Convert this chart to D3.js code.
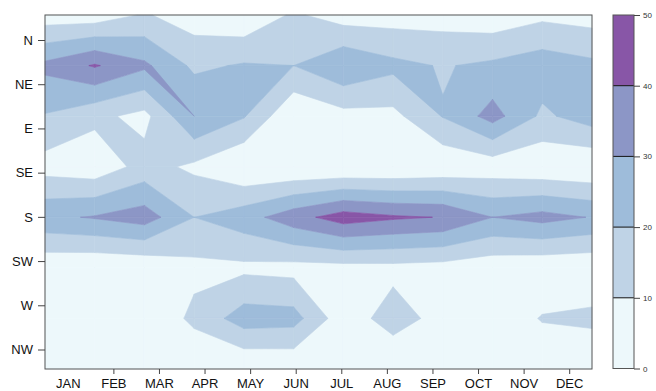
<!DOCTYPE html>
<html>
<head>
<meta charset="utf-8">
<script src="https://cdn.jsdelivr.net/npm/d3@7"></script>
<style>
  body { margin: 0; background: #fff; }
  text { font-family: "Liberation Sans", Arial, sans-serif; }
</style>
</head>
<body>
<div id="chart"></div>
<script>
const months = ["JAN", "FEB", "MAR", "APR", "MAY", "JUN", "JUL", "AUG", "SEP", "OCT", "NOV", "DEC"];
const directions = ["N", "NE", "E", "SE", "S", "SW", "W", "NW"];
const levels = [0, 10, 20, 30, 40, 50];
const bandColors = ["#edf8fb", "#bfd3e6", "#9ebcda", "#8c96c6", "#8856a7"];

// frequency by month, one array per wind direction
const windN  = [4.3, 4, 11, 4.7, 1.5, 11.5, 5.1, 5.3, 5.4, 3.2, 7.6, 5.7];
const windNE = [32.5, 41, 32, 17.9, 21, 20, 29, 22.7, 19.3, 22, 25.8, 22.4];
const windE  = [19.3, 12.5, 7, 30, 20.8, 0.8, 6.5, 7.1, 20.5, 34, 18, 25];
const windSE = [5.8, 3.2, 13.7, 8, 0, 0, 0, 0.3, 2, 3.9, 2, 0.8];
const windS  = [28, 30.8, 35, 20, 25.7, 36, 45, 41.5, 39.6, 30, 33.5, 29.5];
const windSW = [2, 1, 1.6, 7.3, 7.7, 6.5, 6.6, 7, 6, 3.3, 2, 1.5];
const windW  = [2, 1, 0.5, 12.5, 25, 24, 3.7, 15, 6, 3, 10.7, 12.5];
const windNW = [1, 1, 1, 0, 0, 0.7, 1, 0, 1, 1, 2, 0];

const grid = [windN, windNE, windE, windSE, windS, windSW, windW, windNW];

const width = 656, height = 391;
const plot = { left: 45, top: 15, right: 592, bottom: 369 };

const svg = d3.select("#chart")
  .append("svg")
  .attr("width", width)
  .attr("height", height);

// grid columns/rows span the whole plot box
const x = d3.scaleLinear().domain([0, months.length - 1]).range([plot.left, plot.right]);
const y = d3.scaleLinear().domain([0, directions.length - 1]).range([plot.top, plot.bottom]);

// polygon of one cell that lies inside [lo, hi] (walks the 4 edges like filled.contour)
function cellBand(corners, lo, hi) {
  const pts = [];
  for (let k = 0; k < 4; k++) {
    const [c1, r1, z1] = corners[k];
    const [c2, r2, z2] = corners[(k + 1) % 4];
    if (z1 >= lo && z1 <= hi) pts.push([c1, r1]);
    if (z1 !== z2) {
      [lo, hi].map(v => (v - z1) / (z2 - z1))
        .filter(t => t > 0 && t < 1)
        .sort((a, b) => a - b)
        .forEach(t => pts.push([c1 + t * (c2 - c1), r1 + t * (r2 - r1)]));
    }
  }
  return pts.length >= 3 ? pts : null;
}

const line = d3.line()
  .x(p => x(p[0]))
  .y(p => y(p[1]))
  .curve(d3.curveLinearClosed);

const gFill = svg.append("g");

bandColors.forEach((col, b) => {
  const lo = levels[b], hi = levels[b + 1];
  for (let r = 0; r < directions.length - 1; r++) {
    for (let c = 0; c < months.length - 1; c++) {
      const corners = [
        [c, r, grid[r][c]],
        [c + 1, r, grid[r][c + 1]],
        [c + 1, r + 1, grid[r + 1][c + 1]],
        [c, r + 1, grid[r + 1][c]]
      ];
      const pts = cellBand(corners, lo, hi);
      if (!pts) continue;
      gFill.append("path")
        .attr("d", line(pts))
        .attr("fill", col)
        .attr("stroke", col)
        .attr("stroke-width", 0.6)
        .attr("stroke-linejoin", "round");
    }
  }
});

// plot border
svg.append("rect")
  .attr("x", plot.left)
  .attr("y", plot.top)
  .attr("width", plot.right - plot.left)
  .attr("height", plot.bottom - plot.top)
  .attr("fill", "none")
  .attr("stroke", "#555")
  .attr("stroke-width", 1);

// axes
const xLab = d3.scalePoint().domain(months).range([67.8, 569.2]);
const yLab = d3.scalePoint().domain(directions).range([40, 349.5]);

const xAxis = svg.append("g")
  .attr("transform", `translate(0,${plot.bottom})`)
  .call(d3.axisBottom(xLab).tickSize(5).tickPadding(5));
xAxis.select(".domain").remove();
xAxis.selectAll(".tick").filter(d => d === "JAN").select("line").remove();

const yAxis = svg.append("g")
  .attr("transform", `translate(${plot.left},0)`)
  .call(d3.axisLeft(yLab).tickSize(7).tickPadding(5));
yAxis.select(".domain").remove();

[xAxis, yAxis].forEach(g => {
  g.selectAll(".tick line").attr("stroke", "#444");
  g.selectAll(".tick text")
    .attr("fill", "#111")
    .style("font-size", "13px")
    .style("font-family", "'Liberation Sans', Arial, sans-serif");
});

// colour key
const key = { x: 613, w: 21 };
const yKey = d3.scaleLinear().domain([0, 50]).range([368.5, 15]);

svg.append("g")
  .selectAll("rect")
  .data(bandColors)
  .join("rect")
  .attr("x", key.x)
  .attr("width", key.w)
  .attr("y", (d, i) => yKey(levels[i + 1]))
  .attr("height", (d, i) => yKey(levels[i]) - yKey(levels[i + 1]))
  .attr("fill", d => d);

svg.append("g")
  .selectAll("line")
  .data(levels.slice(1, -1))
  .join("line")
  .attr("x1", key.x)
  .attr("x2", key.x + key.w)
  .attr("y1", d => yKey(d))
  .attr("y2", d => yKey(d))
  .attr("stroke", "#111")
  .attr("stroke-width", 1);

svg.append("rect")
  .attr("x", key.x)
  .attr("y", yKey(50))
  .attr("width", key.w)
  .attr("height", yKey(0) - yKey(50))
  .attr("fill", "none")
  .attr("stroke", "#555");

const keyAxis = svg.append("g")
  .attr("transform", `translate(${key.x + key.w},0)`)
  .call(d3.axisRight(yKey).tickValues(levels).tickSize(6).tickPadding(3));
keyAxis.select(".domain").remove();
keyAxis.selectAll(".tick line").attr("stroke", "#444");
keyAxis.selectAll(".tick text")
  .attr("fill", "#333")
  .style("font-size", "8px")
  .style("font-family", "'Liberation Sans', Arial, sans-serif");
</script>
</body>
</html>
